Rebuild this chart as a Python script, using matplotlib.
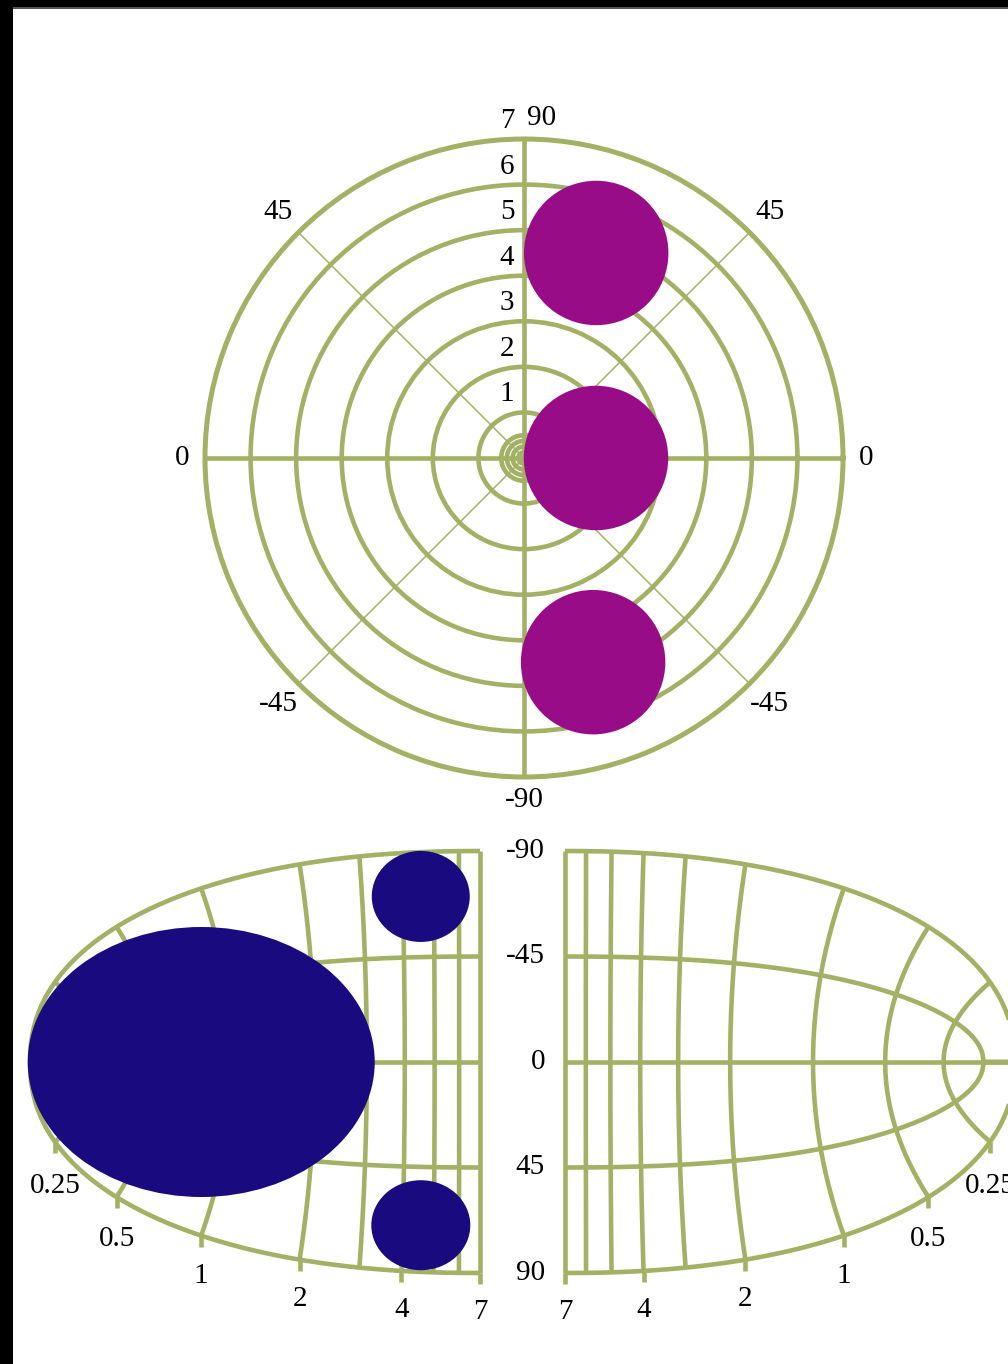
import numpy as np
import matplotlib
matplotlib.use("Agg")
import matplotlib.pyplot as plt
from matplotlib.patches import Ellipse, Rectangle
from matplotlib.transforms import offset_copy

# ---------------------------------------------------------------------------
# Data
# ---------------------------------------------------------------------------

# polar panel: three points (angle in degrees, radius)
point_theta = [70.6, 0.0, -71.3]
point_r = [4.77, 1.58, 4.73]

ring_values = [0.125, 0.25, 0.375, 0.5, 1, 2, 3, 4, 5, 6]
ring_labels = [1, 2, 3, 4, 5, 6, 7]
angle_ticks = [0, 45, 90, 135, 180, 225, 270, 315]
angle_labels = ["0", "45", "90", "45", "0", "-45", "-90", "-45"]

# stretched (log radial) panels
curve_r = [7, 6, 5, 4, 3, 2, 1, 0.5, 0.25]
tick_r = [7, 4, 2, 1, 0.5, 0.25]
tick_r_labels = ["7", "4", "2", "1", "0.5", "0.25"]
line_theta = [-90, -45, 0, 45, 90]
line_theta_labels = ["-90", "-45", "0", "45", "90"]

bubble_theta = [-71, 0, 70]
bubble_r = [4.55, 0.755, 4.55]

# ---------------------------------------------------------------------------
# Style
# ---------------------------------------------------------------------------

W, H = 1008, 1364
GREEN = "#a3b165"
PURPLE = "#990c88"
NAVY = "#1a0a80"
FS = 21
LW = 3.3
LW_THIN = 1.1

BUBBLE_PX = [(98, 91), (347, 270), (99, 90)]   # width, height in pixels

plt.rcParams["font.family"] = ["Liberation Serif", "DejaVu Serif"]

# polar panel geometry (pixels)
PCX, PCY, PR = 524, 458, 319

# stretched panel geometry (pixels)
PANEL_W, PANEL_H = 450, 211
MID_Y = 1062
RIGHT_X0 = 565          # r = 7 line of the right panel
LEFT_X0 = 480           # r = 7 line of the left panel

R_MAX = 7.0
K = 0.3                 # latitude per log-unit of radius
BOW = 0.27
SUPER = 2.2


def project(r, theta):
    """Map (radius, angle) onto the stretched half-ellipse (u in 0..1, v in -1..1)."""
    r = np.asarray(r, float)
    t = np.asarray(theta, float) / 90.0
    phi = np.clip(K * np.log(R_MAX / r), 0, np.pi / 2)
    uc = np.sin(phi)
    ub = np.minimum(uc + BOW * uc ** 2 * np.cos(phi), 1.0)
    vb = (1 - ub ** SUPER) ** (1 / SUPER)
    return uc + (ub - uc) * t ** 2, vb * t


def fig_rect(x0, y_top, w, h):
    return [x0 / W, 1 - (y_top + h) / H, w / W, h / H]


fig = plt.figure(figsize=(W / 100, H / 100), dpi=100)
fig.patch.set_facecolor("white")

# frame edges
fig.add_artist(Rectangle((0, 1 - 7 / H), 1, 7 / H, transform=fig.transFigure,
                         facecolor="black", edgecolor="none", zorder=10))
fig.add_artist(Rectangle((0, 1 - 9 / H), 1, 2 / H, transform=fig.transFigure,
                         facecolor="#555555", edgecolor="none", zorder=10))
fig.add_artist(Rectangle((0, 0), 13 / W, 1, transform=fig.transFigure,
                         facecolor="black", edgecolor="none", zorder=10))

# ---------------------------------------------------------------------------
# Polar panel
# ---------------------------------------------------------------------------
axp = fig.add_axes(fig_rect(PCX - PR, PCY - PR, 2 * PR, 2 * PR), projection="polar")
axp.set_ylim(0, R_MAX)
axp.set_yticks(ring_values)
axp.set_yticklabels([])
axp.set_xticks(np.deg2rad(angle_ticks))
axp.set_xticklabels([])
axp.yaxis.grid(True, color=GREEN, lw=LW)
axp.xaxis.grid(True, color=GREEN, lw=LW_THIN)
axp.spines["polar"].set_color(GREEN)
axp.spines["polar"].set_linewidth(LW + 0.3)

for a in [0, 90, 180, 270]:
    th = np.deg2rad(a)
    axp.plot([th, th], [0, R_MAX], color=GREEN, lw=LW, solid_capstyle="butt", zorder=2)

axp.scatter(np.deg2rad(point_theta), point_r, s=104 ** 2, color=PURPLE,
            edgecolors="none", zorder=3)

for a, lab in zip(angle_ticks, angle_labels):
    th = np.deg2rad(a)
    if a == 90:
        axp.text(th, 7.46, lab, ha="left", va="center", fontsize=FS, clip_on=False,
                 transform=offset_copy(axp.transData, fig=fig, x=3, y=0, units="dots"))
    else:
        rr = 7.62 if a % 90 else 7.5
        axp.text(th, rr, lab, ha="center", va="center", fontsize=FS, clip_on=False)

lab_tr = offset_copy(axp.transData, fig=fig, x=-17, y=18, units="dots")
for k in ring_labels:
    axp.text(np.pi / 2, k, str(k), ha="center", va="center", fontsize=FS,
             transform=lab_tr, clip_on=False)

# ---------------------------------------------------------------------------
# Stretched panels
# ---------------------------------------------------------------------------


def draw_stretched(ax, flip):
    ax.set_xlim((1, 0) if flip else (0, 1))
    ax.set_ylim(1, -1)
    ax.axis("off")
    style = dict(color=GREEN, lw=LW, clip_on=False, solid_capstyle="butt", zorder=2)

    r_line = np.geomspace(R_MAX, R_MAX * np.exp(-np.pi / 2 / K), 400)
    for th in line_theta:
        u, v = project(r_line, np.full_like(r_line, th))
        ax.plot(u, v, **style)

    th_line = np.linspace(-90, 90, 240)
    for rv in curve_r:
        u, v = project(np.full_like(th_line, rv), th_line)
        ax.plot(u, v, **style)

    tick_len = 11 / PANEL_H
    for rv, lab in zip(tick_r, tick_r_labels):
        u, v = project(rv, 90)
        gap = (39 + 8 * (1 - v)) / PANEL_H
        ax.plot([u, u], [v, v + tick_len], **style)
        ax.text(u, v + gap, lab, ha="center", va="center", fontsize=FS, clip_on=False)


ax_left = fig.add_axes(fig_rect(LEFT_X0 - PANEL_W, MID_Y - PANEL_H, PANEL_W, 2 * PANEL_H))
ax_right = fig.add_axes(fig_rect(RIGHT_X0, MID_Y - PANEL_H, PANEL_W, 2 * PANEL_H))
draw_stretched(ax_left, flip=True)
draw_stretched(ax_right, flip=False)

for th, lab in zip(line_theta, line_theta_labels):
    ax_right.text(-20 / PANEL_W, th / 90, lab, ha="right", va="center",
                  fontsize=FS, clip_on=False)

for rv, th, (w, h) in zip(bubble_r, bubble_theta, BUBBLE_PX):
    u, v = project(rv, th)
    ax_left.add_patch(Ellipse((float(u), float(v)), w / PANEL_W, h / PANEL_H,
                              facecolor=NAVY, edgecolor="none", zorder=3, clip_on=False))

fig.savefig("out.png", dpi=100, facecolor="white")
